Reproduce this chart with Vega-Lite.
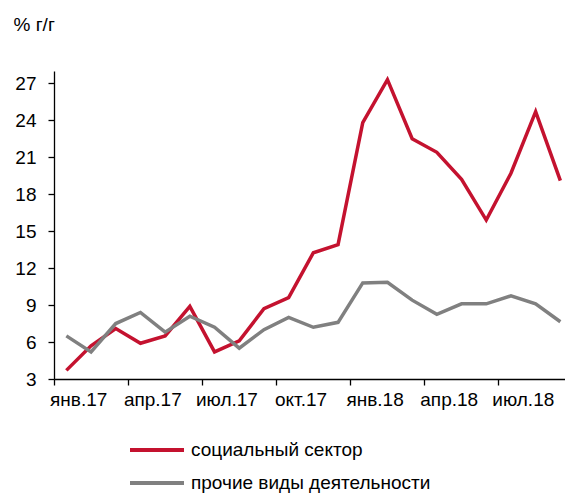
{
  "$schema": "https://vega.github.io/schema/vega-lite/v6.json",
  "autosize": {"type": "none"},
  "padding": {"left": 54, "top": 71, "right": 0, "bottom": 114},
  "width": 511,
  "height": 308,
  "background": "white",
  "config": {
    "view": {"stroke": null},
    "font": "Liberation Sans",
    "axis": {"domainColor": "black", "tickColor": "black", "labelColor": "black", "titleColor": "black", "grid": false, "domainWidth": 1.3, "tickWidth": 1.3, "tickSize": 6, "labelFont": "Liberation Sans", "titleFont": "Liberation Sans"},
    "legend": {"labelFont": "Liberation Sans"}
  },
  "data": {"values": [
    {"m": "янв.17", "s": "социальный сектор", "v": 3.7},
    {"m": "фев.17", "s": "социальный сектор", "v": 5.7},
    {"m": "мар.17", "s": "социальный сектор", "v": 7.1},
    {"m": "апр.17", "s": "социальный сектор", "v": 5.9},
    {"m": "май.17", "s": "социальный сектор", "v": 6.5},
    {"m": "июн.17", "s": "социальный сектор", "v": 8.9},
    {"m": "июл.17", "s": "социальный сектор", "v": 5.2},
    {"m": "авг.17", "s": "социальный сектор", "v": 6.1},
    {"m": "сен.17", "s": "социальный сектор", "v": 8.7},
    {"m": "окт.17", "s": "социальный сектор", "v": 9.6},
    {"m": "ноя.17", "s": "социальный сектор", "v": 13.25},
    {"m": "дек.17", "s": "социальный сектор", "v": 13.9},
    {"m": "янв.18", "s": "социальный сектор", "v": 23.8},
    {"m": "фев.18", "s": "социальный сектор", "v": 27.3},
    {"m": "мар.18", "s": "социальный сектор", "v": 22.5},
    {"m": "апр.18", "s": "социальный сектор", "v": 21.4},
    {"m": "май.18", "s": "социальный сектор", "v": 19.2},
    {"m": "июн.18", "s": "социальный сектор", "v": 15.9},
    {"m": "июл.18", "s": "социальный сектор", "v": 19.7},
    {"m": "авг.18", "s": "социальный сектор", "v": 24.7},
    {"m": "сен.18", "s": "социальный сектор", "v": 19.1},
    {"m": "янв.17", "s": "прочие виды деятельности", "v": 6.5},
    {"m": "фев.17", "s": "прочие виды деятельности", "v": 5.2},
    {"m": "мар.17", "s": "прочие виды деятельности", "v": 7.5},
    {"m": "апр.17", "s": "прочие виды деятельности", "v": 8.4},
    {"m": "май.17", "s": "прочие виды деятельности", "v": 6.8},
    {"m": "июн.17", "s": "прочие виды деятельности", "v": 8.1},
    {"m": "июл.17", "s": "прочие виды деятельности", "v": 7.2},
    {"m": "авг.17", "s": "прочие виды деятельности", "v": 5.5},
    {"m": "сен.17", "s": "прочие виды деятельности", "v": 7.0},
    {"m": "окт.17", "s": "прочие виды деятельности", "v": 8.0},
    {"m": "ноя.17", "s": "прочие виды деятельности", "v": 7.2},
    {"m": "дек.17", "s": "прочие виды деятельности", "v": 7.6},
    {"m": "янв.18", "s": "прочие виды деятельности", "v": 10.8},
    {"m": "фев.18", "s": "прочие виды деятельности", "v": 10.85},
    {"m": "мар.18", "s": "прочие виды деятельности", "v": 9.4},
    {"m": "апр.18", "s": "прочие виды деятельности", "v": 8.25},
    {"m": "май.18", "s": "прочие виды деятельности", "v": 9.1},
    {"m": "июн.18", "s": "прочие виды деятельности", "v": 9.1},
    {"m": "июл.18", "s": "прочие виды деятельности", "v": 9.75},
    {"m": "авг.18", "s": "прочие виды деятельности", "v": 9.1},
    {"m": "сен.18", "s": "прочие виды деятельности", "v": 7.65}
  ]},
  "mark": {"type": "line", "strokeWidth": 3.5, "strokeJoin": "miter"},
  "encoding": {
    "x": {
      "field": "m", "type": "ordinal", "sort": null,
      "scale": {"type": "band", "paddingInner": 0, "paddingOuter": 0, "range": [0, 518.7]},
      "axis": {
        "title": null, "labelAngle": 0,
        "values": ["янв.17", "апр.17", "июл.17", "окт.17", "янв.18", "апр.18", "июл.18"],
        "bandPosition": 0, "labelOffset": 12.35,
        "labelFontSize": 19, "labelPadding": 5
      }
    },
    "y": {
      "field": "v", "type": "quantitative",
      "scale": {"domain": [3, 28], "nice": false, "zero": false},
      "axis": {
        "values": [3, 6, 9, 12, 15, 18, 21, 24, 27],
        "labelFontSize": 19, "labelPadding": 12,
        "title": "% г/г", "titleAngle": 0, "titleAlign": "left", "titleBaseline": "alphabetic",
        "titleX": -41, "titleY": -41, "titleFontSize": 19, "titleFontWeight": "normal"
      }
    },
    "color": {
      "field": "s", "type": "nominal",
      "scale": {"domain": ["социальный сектор", "прочие виды деятельности"], "range": ["#C4122F", "#808080"]},
      "legend": {
        "title": null, "orient": "none", "legendX": 74, "legendY": 363.5, "direction": "vertical",
        "symbolType": "M-1,0H3", "symbolSize": 729, "symbolStrokeWidth": 4, "symbolFillColor": "transparent",
        "labelFontSize": 19, "labelColor": "black", "labelOffset": 32, "labelLimit": 0, "rowPadding": 7, "padding": 0
      }
    }
  }
}
